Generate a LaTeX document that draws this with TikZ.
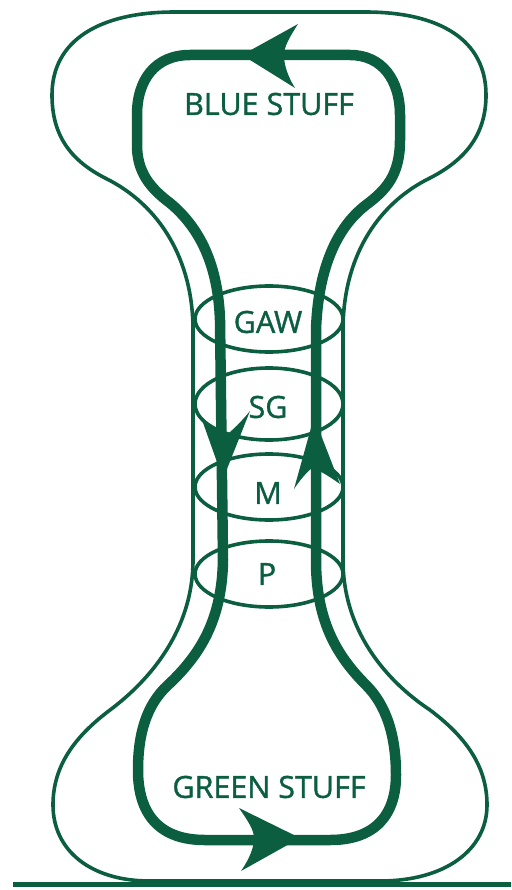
\documentclass[tikz,border=0pt]{standalone}
\usepackage{fontspec}
\setmainfont{Open Sans}
\definecolor{dkgreen}{RGB}{12,94,64}
\begin{document}
\begin{tikzpicture}[x=1pt,y=-1pt,
  thin line/.style={draw=dkgreen,line width=3.6pt},
  thick line/.style={draw=dkgreen,line width=10.5pt},
  head/.style={fill=dkgreen},
  lab/.style={text=dkgreen,inner sep=0pt,font=\fontsize{30.5}{32}\selectfont\addfontfeature{FakeBold=1.2}}]
\useasboundingbox (0,0) rectangle (511,890);
% outer thin outline
\path[thin line] (270,12) -- (175,12) .. controls (100,12) and (52,40) .. (52,95)
  .. controls (52,135) and (70,160) .. (105,178)
  .. controls (160,205) and (193,260) .. (193,330) -- (193,560)
  .. controls (193,630) and (150,680) .. (110,710)
  .. controls (70,740) and (53,770) .. (53,805)
  .. controls (53,850) and (90,881) .. (150,881) -- (380,881)
  .. controls (445,881) and (487,850) .. (487,805)
  .. controls (487,770) and (470,740) .. (430,710)
  .. controls (385,680) and (343,630) .. (343,560) -- (343,330)
  .. controls (343,260) and (375,205) .. (430,178)
  .. controls (465,160) and (486,135) .. (486,95)
  .. controls (486,40) and (440,12) .. (365,12) -- cycle;
% ellipses
\path[thin line] (269,319) ellipse [x radius=74, y radius=33];
\path[thin line] (269,404) ellipse [x radius=74, y radius=36];
\path[thin line] (269,487) ellipse [x radius=74, y radius=33];
\path[thin line] (269,574) ellipse [x radius=74, y radius=33];
% inner thick loop
\path[thick line] (267,55) -- (190,55) .. controls (155,55) and (137,80) .. (137,115) -- (137,145)
  .. controls (137,172) and (150,188) .. (170,203)
  .. controls (200,228) and (218,265) .. (220,320) -- (223,560)
  .. controls (222,620) and (200,655) .. (168,685)
  .. controls (146,705) and (138,735) .. (138,770)
  .. controls (138,815) and (160,840) .. (205,840) -- (330,840)
  .. controls (375,840) and (396,815) .. (396,775)
  .. controls (396,735) and (386,705) .. (366,685)
  .. controls (336,655) and (316,620) .. (316,560) -- (316,330)
  .. controls (318,270) and (336,228) .. (366,205)
  .. controls (386,190) and (400,175) .. (400,140) -- (400,115)
  .. controls (400,80) and (382,55) .. (350,55) -- cycle;
% arrowheads
\fill[head] (242,55) -- (298,24) .. controls (289,38) and (284,47) .. (284,55)
  .. controls (284,64) and (287,75) .. (295,88) -- cycle;
\fill[head] (300,838) -- (239,808) .. controls (248,821) and (254,830) .. (254,838)
  .. controls (254,847) and (250,858) .. (241,871) -- cycle;
\fill[head] (223,479) -- (201,417) .. controls (211,427) and (219,433) .. (225,436)
  .. controls (233,430) and (241,422) .. (250,411) -- cycle;
\fill[head] (314,417) -- (340,484) .. controls (327,475) and (319,470) .. (312,468)
  .. controls (306,473) and (300,480) .. (294,489) -- cycle;
% bottom ground line
\draw[dkgreen,line width=5pt] (13,884.5) -- (511,884.5);
% labels
\node[lab] (blue) at (269,104) {BLUE STUFF};
\node[lab] (green) at (269,787) {GREEN STUFF};
\node[lab] (gaw) at (268,322) {GAW};
\node[lab] (sg) at (268,407) {SG};
\node[lab] (m) at (268,493) {M};
\node[lab] (p) at (267,574) {P};
\end{tikzpicture}
\end{document}
